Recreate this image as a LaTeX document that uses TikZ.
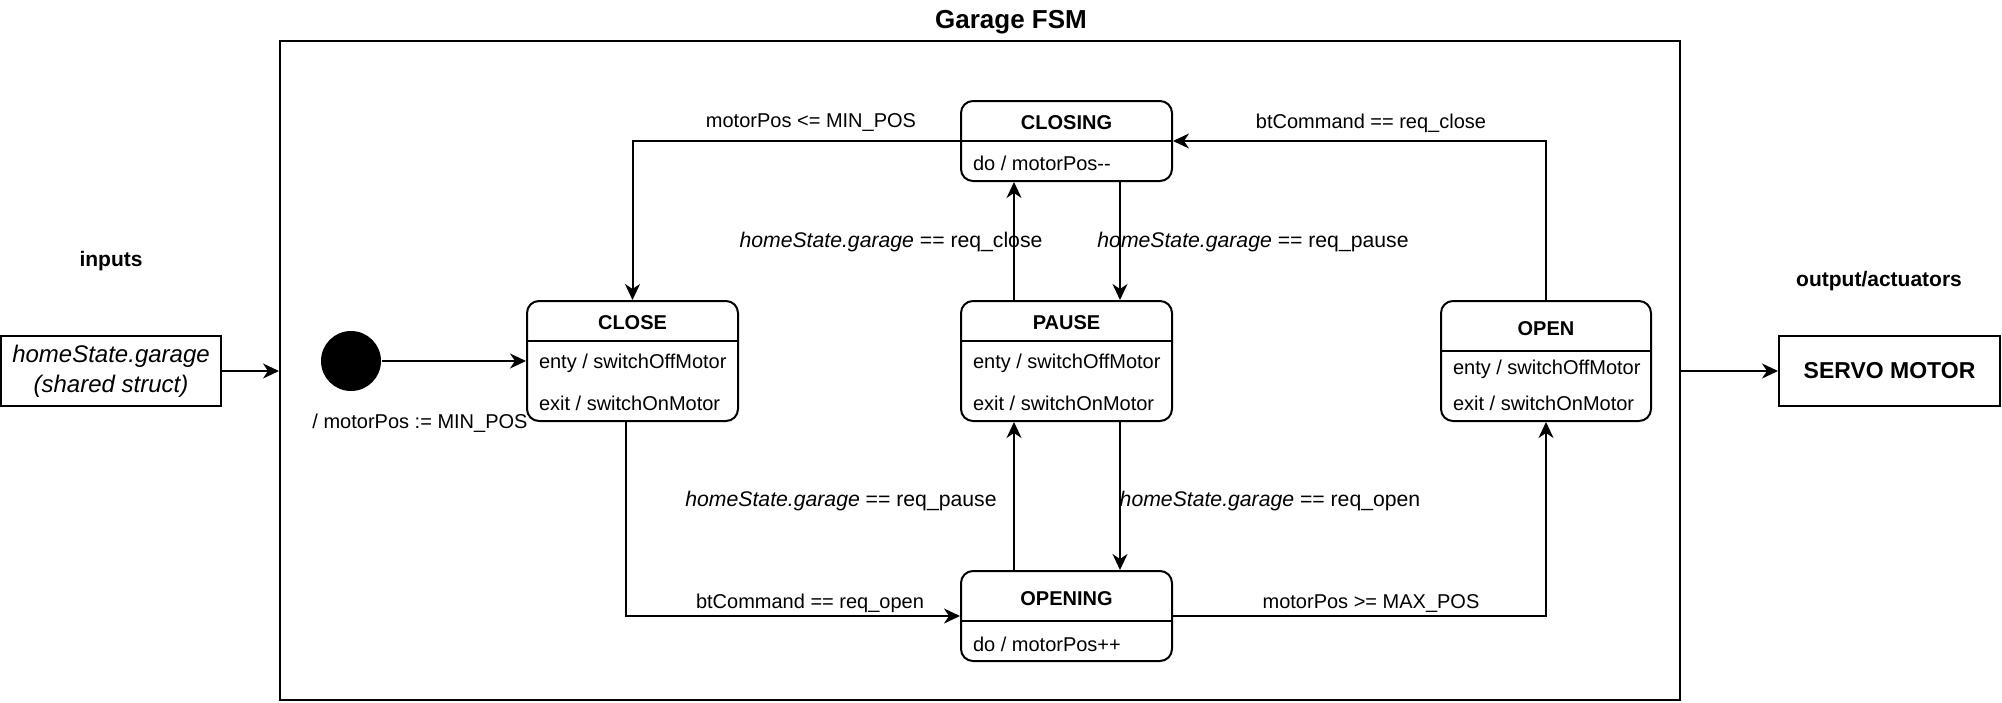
\documentclass[tikz,border=0pt]{standalone}
\usepackage{fontspec}
\setmainfont{Liberation Sans}
\usetikzlibrary{arrows.meta}
\begin{document}
\begin{tikzpicture}[x=0.5pt,y=-0.5pt,
  line width=1pt,
  arr/.style={-{Stealth[length=8pt,width=7.5pt,inset=2.5pt]}},
  st/.style={draw,rounded corners=6pt,inner sep=0pt,minimum width=105.5pt},
  lbl/.style={font=\fontsize{10pt}{12pt}\selectfont,inner sep=0pt},
  hlbl/.style={font=\fontsize{10.6pt}{13pt}\selectfont,inner sep=0pt},
  ttl/.style={font=\fontsize{10pt}{12pt}\selectfont\bfseries,inner sep=0pt},
  ent/.style={lbl,anchor=west},
  plain box/.style={draw,inner sep=0pt,minimum width=110pt,minimum height=35pt},
]
\useasboundingbox (0,0) rectangle (2002,702);

% title and frame
\node[font=\fontsize{13pt}{15pt}\selectfont\bfseries,inner sep=0pt] (title) at (1011,22) {Garage FSM};
\node[draw,minimum width=700pt,minimum height=329.5pt,inner sep=0pt] (frame) at (980,370.5) {};

% inputs / outputs
\node[font=\fontsize{10.5pt}{12pt}\selectfont\bfseries,inner sep=0pt] (intxt) at (111,261) {inputs};
\node[plain box,align=center,font=\fontsize{12pt}{15pt}\selectfont\itshape] (input) at (111,371) {homeState.garage\\(shared struct)};
\node[font=\fontsize{10.5pt}{12pt}\selectfont\bfseries,inner sep=0pt] (outtxt) at (1879,281) {output/actuators};
\node[plain box,minimum width=110.5pt,font=\fontsize{11.5pt}{14pt}\selectfont\bfseries] (servo) at (1889.5,371) {SERVO MOTOR};

% initial state
\node[circle,fill,minimum size=30pt,inner sep=0pt] (init) at (351,361) {};
\node[lbl] (l9) at (420,423) {/ motorPos := MIN\_POS};

% states
\node[st,minimum height=60pt] (close) at (632.5,361) {};
\draw (527,341) -- (738,341);
\node[ttl] (closet) at (632.5,323) {CLOSE};
\node[ent] (closee) at (538,363) {enty / switchOffMotor};
\node[ent] (closex) at (538,403) {exit / switchOnMotor};

\node[st,minimum height=60pt] (pause) at (1066.5,361) {};
\draw (961,341) -- (1172,341);
\node[ttl] (pauset) at (1066.5,323) {PAUSE};
\node[ent] (pausee) at (972,363) {enty / switchOffMotor};
\node[ent] (pausex) at (972,403) {exit / switchOnMotor};

\node[st,minimum width=105pt,minimum height=60pt] (open) at (1546,361) {};
\draw (1441,351) -- (1651,351);
\node[ttl] (opent) at (1546,329) {OPEN};
\node[ent] (opene) at (1452,369) {enty / switchOffMotor};
\node[ent] (openx) at (1452,403) {exit / switchOnMotor};

\node[st,minimum height=40pt] (closing) at (1066.5,141) {};
\draw (961,141) -- (1172,141);
\node[ttl] (closingt) at (1066.5,123) {CLOSING};
\node[ent] (closingd) at (972,163) {do / motorPos-{}-};

\node[st,minimum height=45pt] (opening) at (1066.5,616) {};
\draw (961,621) -- (1172,621);
\node[ttl] (openingt) at (1066.5,599) {OPENING};
\node[ent] (openingd) at (972,644) {do / motorPos++};

% helper coordinates for vertical transitions
\coordinate (xl) at (1014,0);
\coordinate (xr) at (1120,0);
\coordinate (xc) at (626,0);

% connectors
\draw[arr] (input) -- (input -| frame.west);
\draw[arr] (frame.east |- servo) -- (servo);
\draw[arr] (init) -- (close);
\draw[arr] (closing.west) -| (close.north);
\draw[arr] (open.north) |- (closing.east);
\draw[arr] (pause.north -| xl) -- (closing.south -| xl);
\draw[arr] (closing.south -| xr) -- (pause.north -| xr);
\draw[arr] (opening.north -| xl) -- (pause.south -| xl);
\draw[arr] (pause.south -| xr) -- (opening.north -| xr);
\draw[arr] (close.south -| xc) |- (opening.west);
\draw[arr] (opening.east) -| (open.south);

% transition labels
\node[lbl] (l1) at (811,123) {motorPos <= MIN\_POS};
\node[lbl] (l2) at (1371,123) {btCommand == req\_close};
\node[hlbl] (l3) at (891,242) {\textit{homeState.garage} == req\_close};
\node[hlbl] (l4) at (1253,242) {\textit{homeState.garage} == req\_pause};
\node[hlbl] (l5) at (841,501) {\textit{homeState.garage} == req\_pause};
\node[hlbl] (l6) at (1270,501) {\textit{homeState.garage} == req\_open};
\node[lbl] (l7) at (810,603) {btCommand == req\_open};
\node[lbl] (l8) at (1371,603) {motorPos >= MAX\_POS};
\end{tikzpicture}
\end{document}
